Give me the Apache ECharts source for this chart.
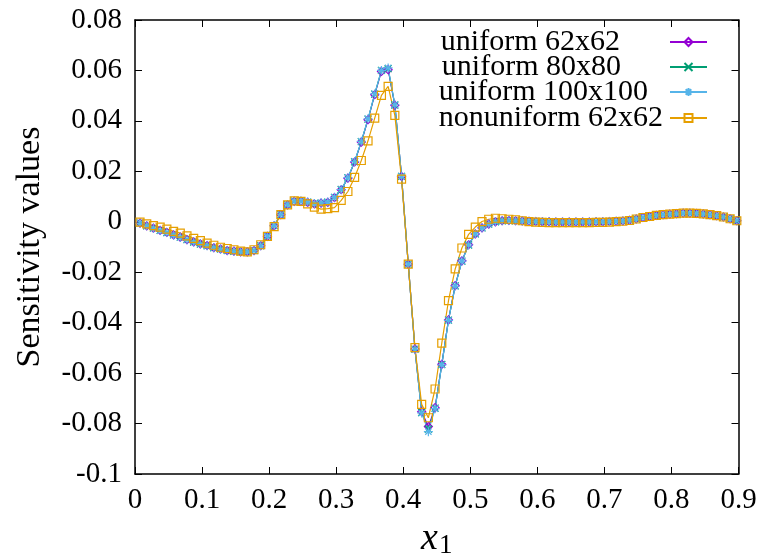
<!DOCTYPE html>
<html>
<head>
<meta charset="utf-8">
<script src="https://cdn.jsdelivr.net/npm/echarts@6/dist/echarts.min.js"></script>
<style>
html,body{margin:0;padding:0;background:#fff;}
#chart{width:766px;height:560px;}
</style>
</head>
<body>
<div id="chart"></div>
<script>
// x positions of the sample points
const xValues = [0.0075,0.0175,0.0275,0.0375,0.0475,0.0575,0.0675,0.0775,0.0875,0.0975,
  0.1075,0.1175,0.1275,0.1375,0.1475,0.1575,0.1675,0.1775,0.1875,0.1975,
  0.2075,0.2175,0.2275,0.2375,0.2475,0.2575,0.2675,0.2775,0.2875,0.2975,
  0.3075,0.3175,0.3275,0.3375,0.3475,0.3575,0.3675,0.3775,0.3875,0.3975,
  0.4075,0.4175,0.4275,0.4375,0.4475,0.4575,0.4675,0.4775,0.4875,0.4975,
  0.5075,0.5175,0.5275,0.5375,0.5475,0.5575,0.5675,0.5775,0.5875,0.5975,
  0.6075,0.6175,0.6275,0.6375,0.6475,0.6575,0.6675,0.6775,0.6875,0.6975,
  0.7075,0.7175,0.7275,0.7375,0.7475,0.7575,0.7675,0.7775,0.7875,0.7975,
  0.8075,0.8175,0.8275,0.8375,0.8475,0.8575,0.8675,0.8775,0.8875,0.8975];

const uniform62 = [-0.0005,-0.0016,-0.0025,-0.0034,-0.0042,-0.0052,-0.0061,-0.0071,-0.0080,-0.0088,
  -0.0094,-0.0103,-0.0108,-0.0114,-0.0116,-0.0119,-0.0119,-0.0114,-0.0095,-0.0058,
  -0.0016,0.0028,0.0067,0.0081,0.0081,0.0077,0.0071,0.0074,0.0077,0.0096,
  0.0127,0.0173,0.0237,0.0316,0.0405,0.0504,0.0596,0.0603,0.0462,0.0180,
  -0.0168,-0.0504,-0.0753,-0.0812,-0.0737,-0.0565,-0.0389,-0.0253,-0.0155,-0.0091,
  -0.0048,-0.0024,-0.0009,0.0000,0.0004,0.0005,0.0004,0.0003,0.0002,0.0001,
  0.0000,0.0000,-0.0001,-0.0001,-0.0001,-0.0001,-0.0001,-0.0001,0.0000,0.0000,
  0.0001,0.0002,0.0003,0.0006,0.0011,0.0017,0.0021,0.0025,0.0028,0.0030,
  0.0032,0.0034,0.0034,0.0033,0.0031,0.0028,0.0024,0.0019,0.0012,0.0004];

const uniform80 = [-0.0005,-0.0016,-0.0025,-0.0034,-0.0043,-0.0052,-0.0061,-0.0071,-0.0080,-0.0088,
  -0.0095,-0.0103,-0.0108,-0.0114,-0.0117,-0.0119,-0.0119,-0.0114,-0.0095,-0.0057,
  -0.0015,0.0029,0.0068,0.0082,0.0082,0.0078,0.0072,0.0074,0.0078,0.0097,
  0.0128,0.0174,0.0238,0.0318,0.0407,0.0506,0.0600,0.0607,0.0463,0.0180,
  -0.0168,-0.0505,-0.0756,-0.0822,-0.0739,-0.0566,-0.0390,-0.0254,-0.0156,-0.0092,
  -0.0048,-0.0024,-0.0009,0.0000,0.0004,0.0005,0.0004,0.0003,0.0002,0.0001,
  0.0000,0.0000,-0.0001,-0.0001,-0.0001,-0.0001,-0.0001,-0.0001,0.0000,0.0000,
  0.0001,0.0002,0.0003,0.0006,0.0011,0.0017,0.0021,0.0025,0.0028,0.0030,
  0.0032,0.0034,0.0034,0.0033,0.0031,0.0028,0.0024,0.0019,0.0012,0.0004];

const uniform100 = [-0.0005,-0.0016,-0.0026,-0.0035,-0.0043,-0.0053,-0.0062,-0.0071,-0.0080,-0.0088,
  -0.0095,-0.0103,-0.0109,-0.0114,-0.0117,-0.0119,-0.0119,-0.0114,-0.0095,-0.0057,
  -0.0015,0.0029,0.0068,0.0082,0.0082,0.0078,0.0072,0.0075,0.0078,0.0097,
  0.0128,0.0175,0.0239,0.0319,0.0408,0.0507,0.0600,0.0610,0.0464,0.0181,
  -0.0168,-0.0506,-0.0758,-0.0832,-0.0741,-0.0567,-0.0391,-0.0255,-0.0156,-0.0092,
  -0.0048,-0.0024,-0.0009,0.0000,0.0004,0.0005,0.0004,0.0003,0.0002,0.0001,
  0.0000,0.0000,-0.0001,-0.0001,-0.0001,-0.0001,-0.0001,-0.0001,0.0000,0.0000,
  0.0001,0.0002,0.0003,0.0006,0.0011,0.0017,0.0021,0.0025,0.0028,0.0030,
  0.0032,0.0034,0.0034,0.0033,0.0031,0.0028,0.0024,0.0019,0.0012,0.0004];

const nonuniform62 = [-0.0001,-0.0008,-0.0015,-0.0021,-0.0029,-0.0038,-0.0045,-0.0056,-0.0066,-0.0075,
  -0.0085,-0.0093,-0.0101,-0.0106,-0.0111,-0.0116,-0.0119,-0.0111,-0.0091,-0.0058,
  -0.0019,0.0028,0.0067,0.0083,0.0081,0.0071,0.0058,0.0050,0.0052,0.0056,
  0.0085,0.0120,0.0176,0.0243,0.0321,0.0411,0.0501,0.0537,0.0422,0.0169,
  -0.0168,-0.0499,-0.0724,-0.0777,-0.0663,-0.0481,-0.0313,-0.0187,-0.0104,-0.0050,
  -0.0021,0.0001,0.0010,0.0014,0.0012,0.0010,0.0008,0.0004,0.0001,-0.0001,
  -0.0002,-0.0003,-0.0003,-0.0003,-0.0003,-0.0003,-0.0003,-0.0003,-0.0002,-0.0002,
  -0.0001,0.0001,0.0002,0.0005,0.0011,0.0017,0.0021,0.0025,0.0028,0.0030,
  0.0032,0.0034,0.0034,0.0033,0.0031,0.0028,0.0024,0.0019,0.0012,0.0004];

const seriesNames = ['uniform 62x62','uniform 80x80','uniform 100x100','nonuniform 62x62'];
const xTicks = {min:0, max:0.9, interval:0.1};
const yTicks = {min:-0.1, max:0.08, interval:0.02};

const FONT = "'Liberation Serif','Times New Roman',serif";
const colors = ['#9400d3','#009e73','#56b4e9','#e69f00'];
const symbols = [
  'diamond',
  'path://M0,0L10,10M10,0L0,10',
  'path://M5,0L5,10M0,5L10,5M1.5,1.5L8.5,8.5M8.5,1.5L1.5,8.5',
  'rect'
];
const symSizes = [8, 7, 9, 8];
const valueSets = [uniform62, uniform80, uniform100, nonuniform62];

const chart = echarts.init(document.getElementById('chart'), null, {renderer:'canvas'});

function axisCommon(extra){
  return Object.assign({
    type:'value',
    axisLine:{show:true, onZero:false, lineStyle:{color:'#000', width:1.5}},
    axisTick:{show:true, inside:true, length:7, lineStyle:{color:'#000', width:1}},
    splitLine:{show:false}
  }, extra);
}
const fmt = v => String(+v.toFixed(3));

const legendRows = [27, 52, 77, 103];
const legendPad = [45, 44, 17, 2];

const option = {
  animation:false,
  backgroundColor:'#fff',
  grid:{left:135, right:27.5, top:20, bottom:86, containLabel:false, outerBoundsMode:'none'},
  xAxis:[
    axisCommon(Object.assign({}, xTicks, {position:'bottom',
      axisLabel:{show:true, color:'#000', fontFamily:FONT, fontSize:29, margin:12, formatter:fmt},
      name:'{i|x}{s|1}', nameLocation:'middle', nameGap:40,
      nameTextStyle:{rich:{
        i:{fontFamily:FONT, fontStyle:'italic', fontSize:38, color:'#000'},
        s:{fontFamily:FONT, fontSize:27, color:'#000', padding:[14,0,0,1]}
      }}
    })),
    axisCommon(Object.assign({}, xTicks, {position:'top', axisLabel:{show:false}}))
  ],
  yAxis:[
    axisCommon(Object.assign({}, yTicks, {position:'left',
      axisLabel:{show:true, color:'#000', fontFamily:FONT, fontSize:29, margin:13, formatter:fmt},
      name:'Sensitivity values', nameLocation:'middle', nameGap:88,
      nameTextStyle:{fontFamily:FONT, fontSize:34, color:'#000'}
    })),
    axisCommon(Object.assign({}, yTicks, {position:'right', axisLabel:{show:false}}))
  ],
  legend: seriesNames.map((n,i)=>({
    data:[n], orient:'vertical', align:'right', right:58, top:legendRows[i],
    itemWidth:37, itemHeight:10, padding:0, selectedMode:false,
    textStyle:{fontFamily:FONT, fontSize:30, color:'#000', padding:[0,legendPad[i],0,0]}
  })),
  series: seriesNames.map((n,i)=>({
    name:n, type:'line', xAxisIndex:0, yAxisIndex:0,
    data: xValues.map((x,k)=>[x, valueSets[i][k]]),
    symbol:symbols[i], symbolSize:symSizes[i], showSymbol:true, showAllSymbol:true,
    color:colors[i],
    lineStyle:{color:colors[i], width:1.2},
    itemStyle:{color:'rgba(0,0,0,0)', borderColor:colors[i], borderWidth:1.2},
    emphasis:{disabled:true}
  }))
};
chart.setOption(option);
</script>
</body>
</html>
